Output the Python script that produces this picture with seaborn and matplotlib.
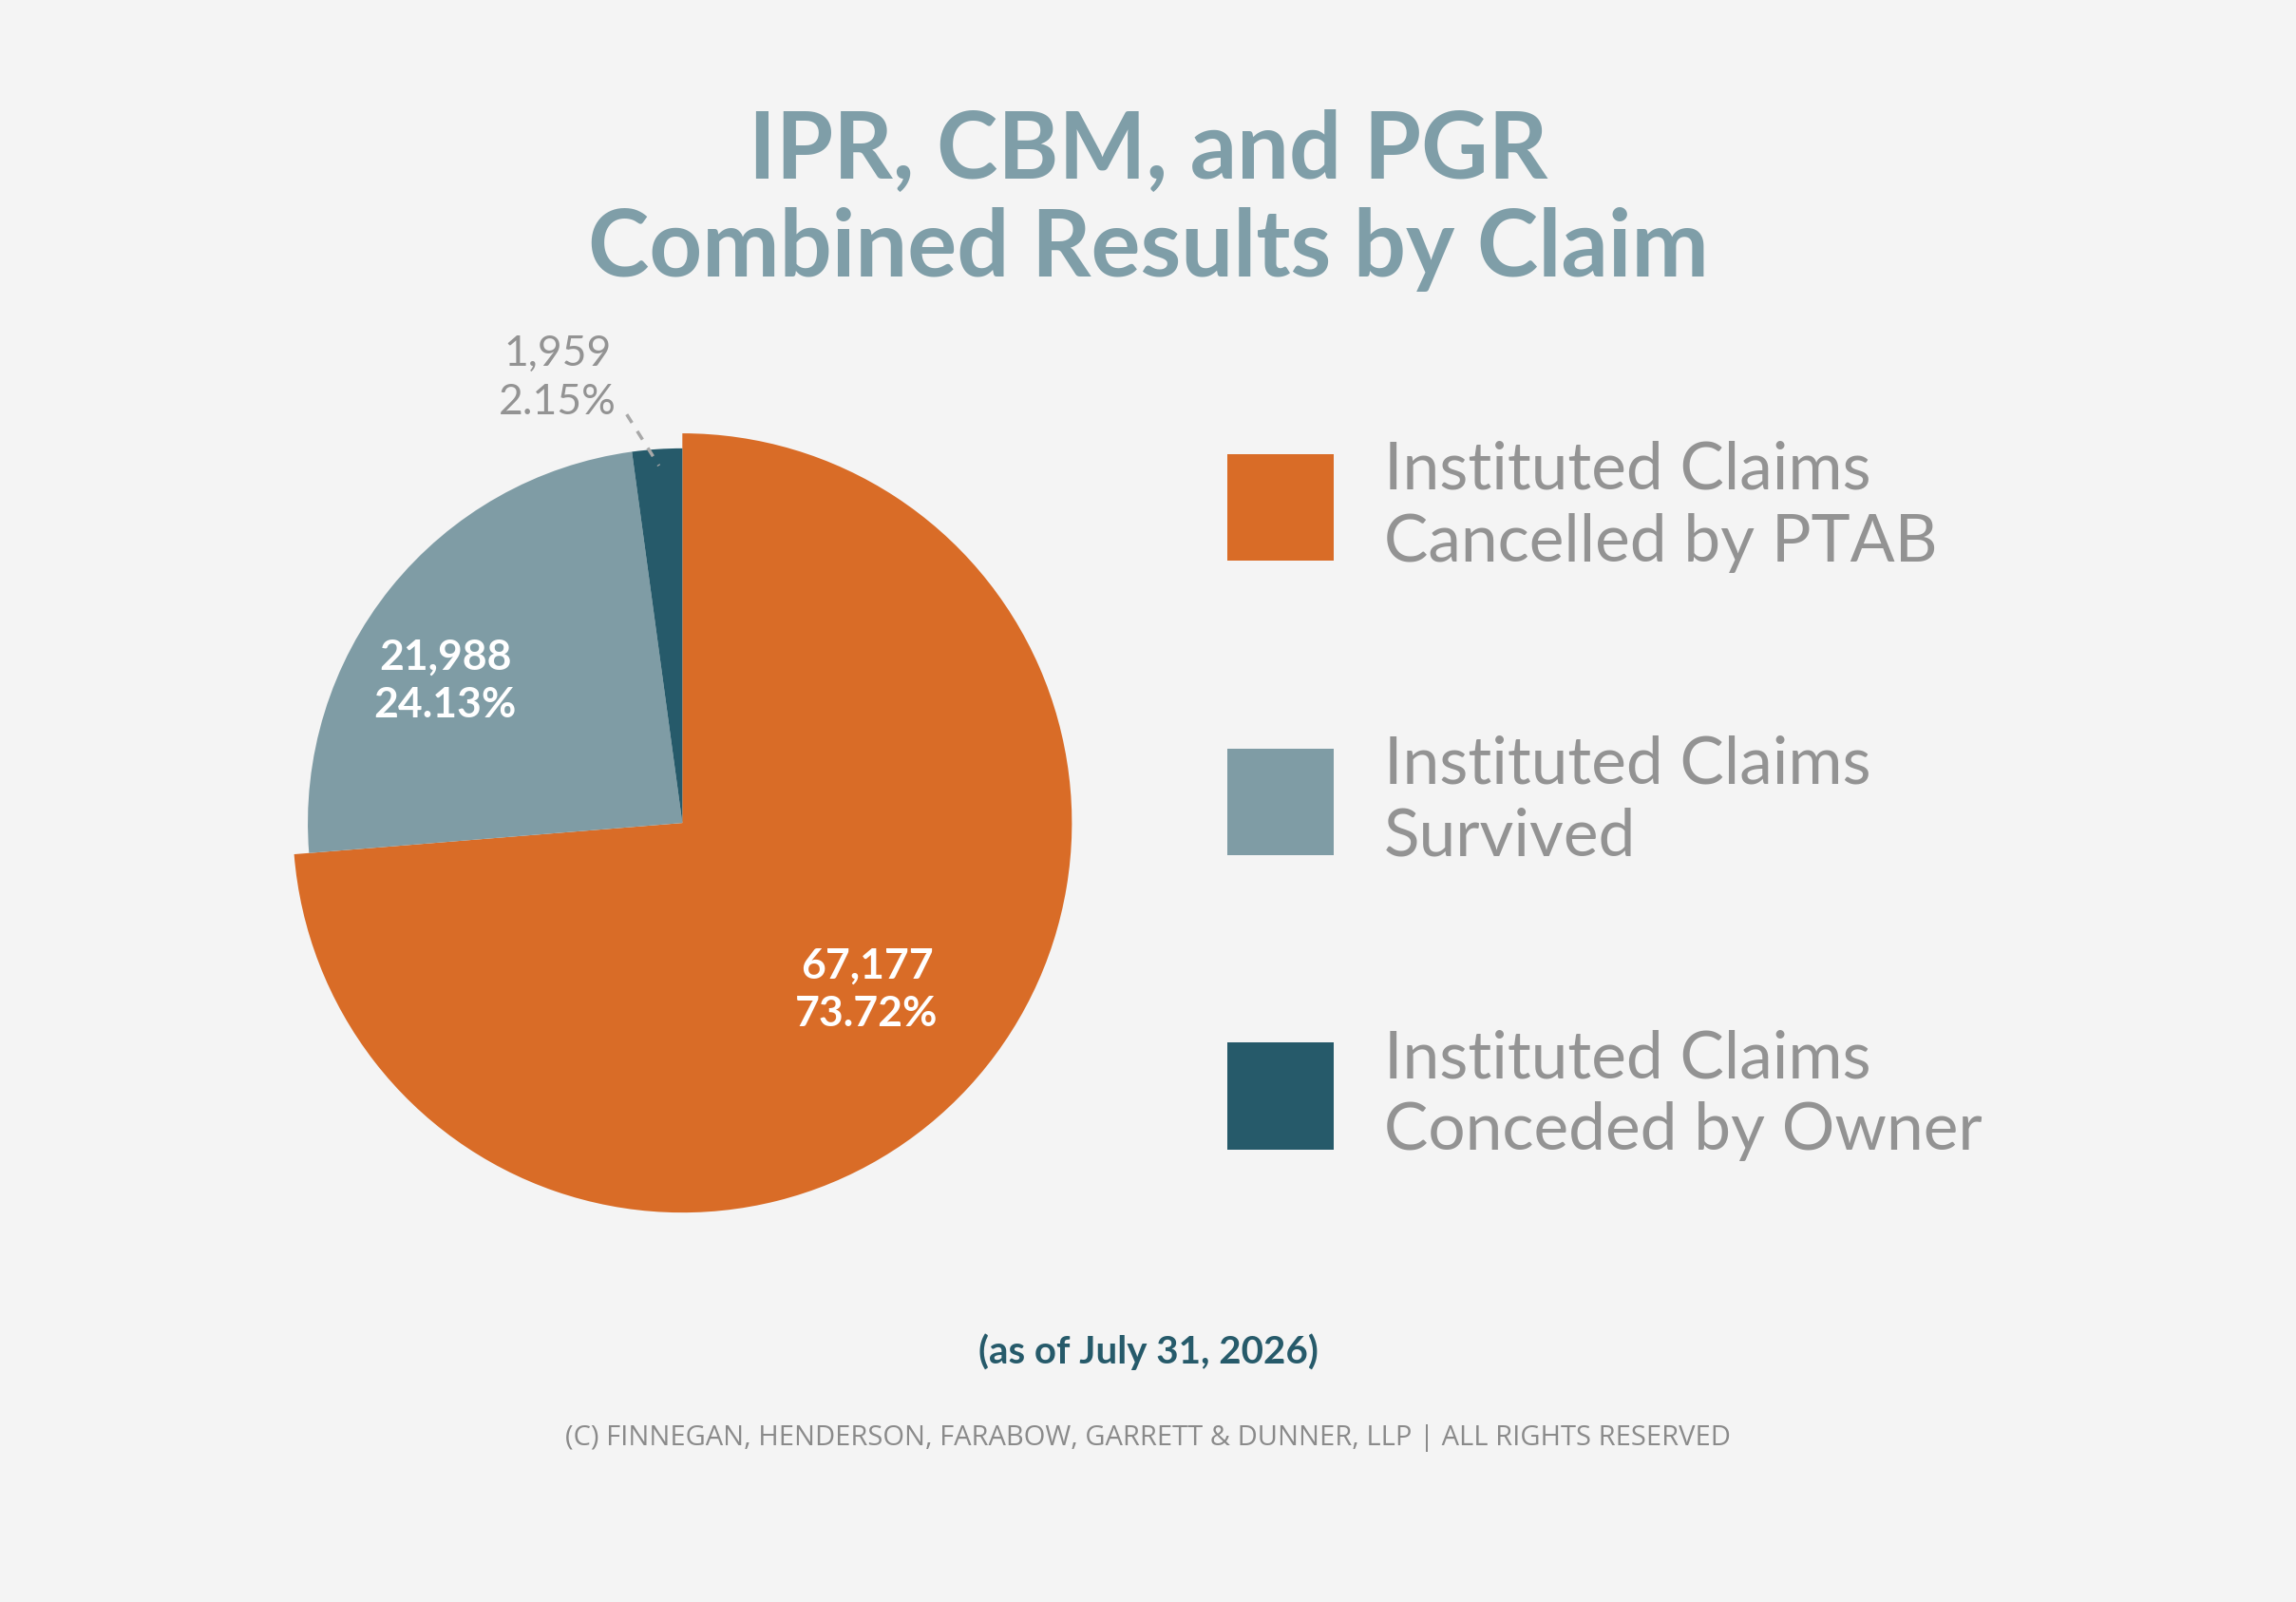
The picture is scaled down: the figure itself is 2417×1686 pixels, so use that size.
import matplotlib
matplotlib.use("Agg")
import matplotlib.pyplot as plt
import seaborn as sns
from matplotlib.patches import Rectangle

categories = ["Instituted Claims\nCancelled by PTAB", "Instituted Claims\nSurvived",
              "Instituted Claims\nConceded by Owner"]
counts = [67177, 21988, 1959]
percents = ["73.72%", "24.13%", "2.15%"]
colors = ["#d96c27", "#7f9ca5", "#265a6a"]

BG = "#f4f4f4"
GREY = "#939393"

sns.set_theme(style="white")
plt.rcParams["font.family"] = ["Lato", "DejaVu Sans"]

W, H = 1568, 1094
fig = plt.figure(figsize=(24.17, 16.86), dpi=100, facecolor=BG)

def fx(x): return x / W
def fy(y): return 1 - y / H

size = 614
ax = fig.add_axes([fx(466 - size / 2), fy(562 + size / 2), size / W, size / H])
ax.set_facecolor(BG)
wedges, _ = ax.pie(counts, colors=colors, startangle=90, counterclock=False, radius=1,
                   wedgeprops=dict(linewidth=0))
wedges[0].set_radius(1.04)
ax.set_xlim(-1.2, 1.2)
ax.set_ylim(-1.2, 1.2)
ax.set_aspect("equal")
ax.axis("off")

lab_font = 32
fig.text(fx(592), fy(676), f"{counts[0]:,}\n{percents[0]}", color="white", fontsize=lab_font,
         fontweight="bold", ha="center", va="center", linespacing=1.3)
fig.text(fx(304), fy(465), f"{counts[1]:,}\n{percents[1]}", color="white", fontsize=lab_font,
         fontweight="bold", ha="center", va="center", linespacing=1.3)
fig.text(fx(381), fy(258), f"{counts[2]:,}\n{percents[2]}", color=GREY, fontsize=lab_font,
         ha="center", va="center", linespacing=1.3)
fig.add_artist(plt.Line2D([fx(428), fx(450)], [fy(283), fy(318)], color="#a8a8a8",
                          lw=2.5, ls=(0, (3, 3))))

fig.text(0.5, fy(137), "IPR, CBM, and PGR\nCombined Results by Claim", color="#7f9ea8",
         fontsize=70, fontweight="bold", ha="center", va="center", linespacing=1.2)

for i, (cat, c) in enumerate(zip(categories, colors)):
    y0 = 310 + i * 201
    fig.add_artist(Rectangle((fx(838), fy(y0 + 73)), 73 / W, 73 / H, color=c, lw=0,
                             transform=fig.transFigure))
    fig.text(fx(945), fy(y0 + 36), cat, color=GREY, fontsize=50, ha="left", va="center",
             linespacing=1.25)

fig.text(0.5, fy(923), "(as of July 31, 2026)", color="#265a6a", fontsize=29,
         fontweight="bold", ha="center", va="center")
fig.text(0.5, fy(982), "(C) FINNEGAN, HENDERSON, FARABOW, GARRETT & DUNNER, LLP | ALL RIGHTS RESERVED",
         color="#8a8a8a", fontsize=21, ha="center", va="center", family="Open Sans")

fig.savefig("out.png", dpi=100, facecolor=BG)
